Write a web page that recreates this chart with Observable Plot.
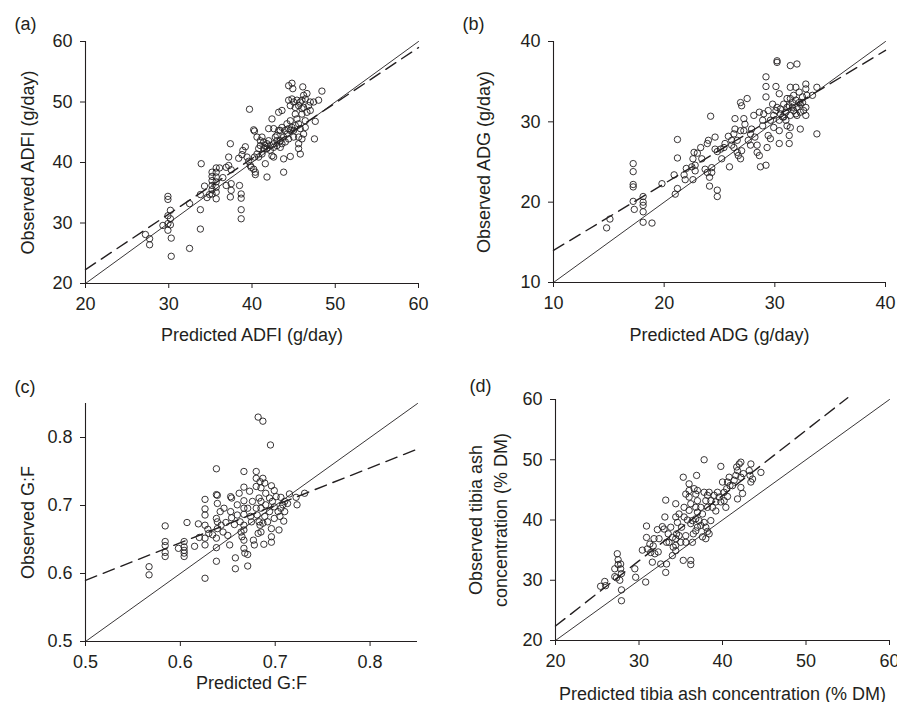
<!DOCTYPE html>
<html><head><meta charset="utf-8">
<script src="https://cdn.jsdelivr.net/npm/d3@7"></script>
<script src="https://cdn.jsdelivr.net/npm/@observablehq/plot@0.6"></script>
<style>
body{margin:0;background:#fff;}
#wrap{position:relative;width:897px;height:702px;overflow:hidden;background:#fff;}
#wrap > div{position:absolute;}
</style></head><body>
<div id="wrap"><div id="pa" style="left:0;top:0"></div><div id="pb" style="left:448px;top:0"></div><div id="pc" style="left:0;top:348px"></div><div id="pd" style="left:448px;top:348px"></div></div>
<script>
// (a) ADFI: [predicted, observed]
const adfi = [[27.2,28.1],[27.7,27.4],[27.7,26.4],[29.3,29.6],[29.9,34.4],[29.9,33.9],[30.2,32.1],[29.9,31.2],[30.2,30.7],[29.9,29.9],[30.2,29.7],[29.9,28.8],[30.3,27.5],[30.3,24.5],[32.5,25.8],[32.5,33.2],[33.8,29.0],[33.8,32.2],[33.8,34.7],[33.9,39.8],[34.3,36.1],[34.6,34.2],[34.9,34.7],[35.2,38.4],[35.2,37.7],[35.2,37.0],[35.2,36.2],[35.2,35.5],[35.2,34.8],[35.7,39.1],[35.7,38.4],[35.7,37.6],[35.7,36.8],[35.7,35.9],[35.7,35.1],[35.7,34.0],[36.1,39.1],[36.5,37.5],[36.9,39.2],[37.2,39.5],[37.4,43.1],[37.2,40.9],[36.9,36.2],[37.5,36.5],[37.4,34.3],[37.5,35.4],[37.5,38.8],[38.5,36.2],[38.7,34.8],[38.7,34.1],[38.7,32.2],[38.7,30.7],[38.4,40.7],[38.8,41.3],[38.9,42.0],[39.2,42.6],[39.4,40.9],[39.6,40.2],[39.8,39.5],[39.9,39.2],[39.7,48.8],[40.2,45.4],[40.3,45.2],
[40.2,38.9],[40.4,38.4],[40.4,38.0],[40.3,40.9],[40.6,41.4],[40.8,42.3],[41.0,42.8],[41.0,43.6],[40.6,44.2],[41.2,44.2],[41.4,43.4],[41.6,42.8],[41.8,42.3],[42.0,43.6],[41.6,39.8],[41.8,37.6],[42.4,41.1],[42.6,40.9],[42.2,42.0],[42.6,42.5],[43.0,43.6],[43.0,44.5],[43.4,45.3],[43.6,45.8],[43.6,43.1],[43.8,44.2],[44.2,44.7],[44.2,46.4],[44.6,45.3],[44.6,46.9],[45.0,45.3],[45.0,44.2],[45.2,46.1],[45.2,48.0],[45.4,47.2],[45.6,46.4],[45.6,44.2],[45.6,43.1],[45.6,42.3],[45.8,41.4],[45.8,45.6],[46.0,48.0],[46.0,48.9],[46.0,50.3],[46.2,49.1],[46.4,50.5],[46.4,46.9],[46.4,45.8],[46.6,48.3],[46.8,49.4],[47.0,50.0],[47.0,48.6],[47.4,50.0],[48.0,50.3],[48.4,51.8],[44.8,53.1],[44.4,52.7],[44.9,52.2],[46.1,52.5],[43.8,40.6],[43.8,38.4],[44.6,41.0],[43.6,48.6],[43.2,48.3],[42.4,47.2],[42.6,45.6],[42.0,45.6],[44.4,50.3],[44.8,50.5],[45.0,50.0],[45.4,50.3],[44.6,49.4],[45.2,49.1],[45.6,49.4],[45.8,50.0],[46.6,51.4],[46.2,51.1],[47.6,46.8],[47.5,43.9],[46.2,44.7],[46.0,43.9],[43.2,45.3],[42.8,44.2],[43.4,43.6],[44.0,45.3],[44.4,45.6],[44.8,45.8],[44.4,43.9],[44.0,43.4],[43.4,42.5],[43.0,42.8],[42.6,43.1],[42.2,42.8],[41.8,43.1],[41.4,42.3],[41.2,41.4],[40.8,40.9]];
const adfiFitX = [20, 60], adfiFitY = [22.3, 59.0];

// (b) ADG
const adg = [[14.8,16.8],[15.1,17.9],[17.2,24.8],[17.2,23.8],[17.2,22.2],[17.2,21.9],[17.2,20.1],[17.3,19.1],[18.1,20.7],[18.1,20.0],[18.1,19.6],[18.1,18.8],[18.1,17.5],[18.9,17.4],[19.8,22.3],[20.9,23.4],[21.0,21.0],[21.2,21.7],[21.2,27.8],[21.2,25.5],[21.8,23.4],[22.0,24.2],[21.9,22.8],[22.6,22.8],[22.5,24.4],[22.6,25.4],[22.7,26.2],[22.8,23.9],[22.8,24.6],[23.0,26.1],[23.3,26.8],[23.4,25.4],[23.7,24.1],[23.9,27.3],[24.0,27.7],[24.1,23.1],[24.1,22.0],[24.2,30.7],[23.9,23.7],
[24.3,24.3],[24.3,23.7],[24.6,28.1],[24.6,26.6],[24.8,26.3],[24.8,21.5],[24.8,20.7],[25.1,26.6],[25.2,25.4],[25.4,26.8],[25.5,27.3],[25.8,28.2],[25.9,24.4],[26.1,27.7],[26.1,27.1],[26.3,28.5],[26.3,26.8],[26.4,30.4],[26.4,29.1],[26.6,27.7],[26.6,26.2],[26.7,25.8],[26.9,25.4],[26.9,28.9],[26.9,32.4],[27.0,32.0],[27.0,26.4],[27.2,28.9],[27.2,30.4],[27.3,29.7],[27.5,32.9],[27.6,27.7],[27.8,28.5],[27.8,27.1],[27.9,29.1],[28.1,30.8],[28.2,28.1],[28.4,27.1],[28.4,26.2],[28.6,25.8],[28.6,31.2],[28.7,24.4],[28.9,30.2],[28.9,29.5],[29.0,31.0],[29.2,33.1],[29.2,34.4],[29.2,35.6],[29.2,24.6],[29.3,26.8],[29.4,28.3],[29.4,31.4],[29.6,30.2],[29.6,27.9],[29.8,32.2],[29.9,30.8],[29.9,29.3],[30.1,31.4],[30.1,34.4],[30.2,37.6],[30.2,37.4],[30.4,33.5],[30.4,30.2],[30.4,28.9],[30.4,27.3],[30.5,31.6],[30.7,30.6],[30.8,32.2],[31.0,31.2],[31.1,29.5],[31.1,32.9],[31.3,27.3],[31.3,28.3],[31.4,34.3],[31.4,37.0],[31.4,30.8],[31.6,31.8],[31.7,33.3],[31.9,32.7],[31.9,34.3],[32.0,37.2],[32.0,30.8],[32.2,33.7],[32.3,32.2],[32.3,29.1],[32.5,33.1],[32.6,31.4],[32.8,34.7],[32.8,34.1],[32.8,31.8],[32.8,30.8],[32.9,33.3],[33.4,33.3],[33.8,34.3],[33.8,28.5],[31.4,32.9],[31.6,32.4],[31.3,32.0],[31.7,31.4],[32.0,31.8],[32.2,32.4],[32.5,32.4],[32.3,31.2],[31.9,31.0],[31.4,29.3],[31.0,30.2],[30.5,31.0],[30.2,31.8],[30.8,30.6],[31.1,31.8]];
const adgFitX = [10, 40], adgFitY = [14.0, 38.9];

// (c) G:F
const gf = [[0.567,0.610],[0.567,0.598],[0.584,0.670],[0.584,0.647],[0.584,0.641],[0.584,0.631],[0.584,0.625],[0.598,0.637],[0.604,0.647],[0.604,0.639],[0.604,0.634],[0.604,0.630],[0.604,0.625],[0.607,0.675],[0.615,0.640],[0.619,0.673],[0.620,0.653],[0.626,0.593],[0.626,0.642],[0.626,0.652],[0.626,0.671],[0.626,0.686],[0.626,0.695],[0.626,0.709],[0.629,0.665],[0.630,0.659],[0.634,0.657],[0.638,0.754],[0.638,0.716],[0.639,0.715],[0.638,0.681],[0.638,0.652],[0.638,0.638],[0.638,0.618],[0.639,0.703],[0.639,0.676],[0.639,0.666],[0.642,0.691],[0.643,0.671],[0.645,0.661],[0.646,0.696],[0.648,0.675],[0.650,0.656],[0.652,0.642],[0.653,0.713],[0.654,0.711],[0.653,0.691],[0.654,0.682],[0.657,0.672],[0.658,0.623],[0.658,0.607],[0.660,0.701],[0.660,0.686],[0.662,0.718],[0.663,0.676],[0.664,0.661],[0.665,0.654],[0.667,0.750],[0.667,0.727],[0.667,0.707],[0.667,0.696],[0.667,0.687],[0.667,0.671],[0.667,0.664],[0.667,0.649],[0.667,0.637],[0.668,0.630],[0.671,0.696],[0.671,0.628],[0.671,0.611],
[0.673,0.721],[0.674,0.684],[0.675,0.676],[0.676,0.706],[0.677,0.649],[0.678,0.642],[0.680,0.750],[0.680,0.740],[0.680,0.728],[0.680,0.696],[0.681,0.686],[0.682,0.830],[0.682,0.659],[0.683,0.711],[0.683,0.676],[0.684,0.671],[0.684,0.735],
[0.687,0.824],[0.695,0.789],[0.687,0.740],[0.689,0.733],[0.685,0.726],[0.696,0.729],[0.699,0.722],[0.701,0.713],[0.706,0.712],[0.710,0.706],[0.715,0.717],[0.722,0.712],[0.731,0.718],[0.723,0.701],[0.713,0.703],[0.708,0.701],[0.710,0.691],[0.709,0.677],[0.704,0.664],[0.696,0.666],[0.696,0.654],[0.696,0.646],[0.688,0.643],[0.685,0.661],[0.690,0.701],[0.694,0.691],[0.699,0.698],[0.703,0.691],[0.705,0.684],[0.699,0.681],[0.692,0.676],[0.689,0.684],[0.685,0.706],[0.694,0.711],[0.690,0.718],[0.706,0.696],[0.697,0.706],[0.687,0.674],[0.685,0.696]];
const gfFitX = [0.5, 0.85], gfFitY = [0.590, 0.783];

// (d) tibia ash concentration
const ash = [[25.4,29.0],[25.9,29.8],[26.0,29.1],[27.1,31.9],[27.4,34.4],[27.5,33.4],[27.5,32.6],[27.8,32.7],[27.8,31.9],[27.9,31.1],[27.7,30.0],[27.9,28.4],[27.9,26.6],[27.1,30.6],[27.3,30.4],[29.5,31.9],[29.6,30.5],[30.8,29.7],[30.4,35.0],[30.9,37.1],[30.9,39.0],[31.0,35.2],[31.3,36.0],[31.4,34.6],[31.6,33.0],[31.8,36.9],[31.9,34.4],[32.2,38.4],[32.3,34.7],[32.6,32.7],[32.8,38.9],[33.1,40.5],[33.2,43.3],[33.2,31.3],[33.3,32.7],[33.3,36.3],[33.5,37.7],[33.8,38.8],[34.0,34.1],[34.1,35.5],[34.4,42.7],[34.4,40.5],[34.4,36.9],[34.4,34.9],[34.4,35.8],[34.5,37.7],[34.6,39.6],[34.8,41.0],[35.1,38.8],[35.3,47.1],[35.3,33.3],[35.4,42.1],[35.4,40.5],[35.6,44.3],[35.6,37.4],[35.6,36.3],[35.8,40.0],[36.0,46.0],[36.0,44.9],[36.0,43.8],[36.0,41.6],[36.2,42.7],[36.2,39.4],[36.4,36.3],[36.5,37.7],[36.8,40.2],[36.8,42.1],[36.9,47.4],[31.7,35.7],[32.4,36.9],[33.0,38.5],[34.0,37.1],[33.6,36.3],[34.8,37.4],[35.0,36.3],[36.6,45.2],[36.8,44.3],[36.4,39.9],[36.8,38.2],[36.2,33.3],[36.2,32.6],
[37.0,43.2],[37.0,41.3],[37.2,39.9],[37.4,42.1],[37.6,41.0],[37.8,44.6],[38.0,43.2],[38.2,44.1],[38.2,42.1],[38.4,44.6],[38.6,43.2],[38.6,39.9],[38.8,42.1],[39.0,44.1],[39.2,43.0],[39.4,44.6],[39.6,43.8],[39.8,43.0],[39.8,48.9],[40.0,46.3],[40.2,44.6],[40.2,43.2],[40.4,42.1],[40.5,45.2],[40.6,43.9],[40.6,46.3],[40.8,47.1],[40.9,45.7],[41.2,45.7],[41.4,46.6],[41.6,47.4],[41.7,48.8],[41.8,43.5],[41.8,48.2],[42.0,49.3],[42.2,49.6],[42.2,47.1],[42.2,45.4],[42.4,44.4],[42.5,47.7],[43.2,48.2],[43.3,47.4],[43.4,49.3],[43.4,46.3],[43.6,46.8],[44.6,47.9],[39.2,41.5],[37.4,39.1],[37.8,39.6],[38.0,38.8],[38.2,38.1],[38.4,37.7],[38.0,36.9],[37.6,37.2],[37.0,38.8],[37.8,50.0],[37.0,44.9]];
const ashFitX = [20, 55], ashFitY = [22.4, 60.3];

const ink = "#231f20";
const FONT = "'Liberation Sans', Arial, Helvetica, sans-serif";

function panel(o) {
  const d0 = o.dom[0], d1 = o.dom[1];
  return Plot.plot({
    width: o.width, height: o.height,
    marginLeft: o.ml, marginRight: o.mr, marginTop: o.mt, marginBottom: o.mb,
    style: {fontFamily: FONT, fontSize: "18px", color: ink, background: "white", overflow: "hidden"},
    x: {domain: o.dom},
    y: {domain: o.dom},
    marks: [
      Plot.axisX({ticks: o.ticks, tickFormat: o.fmt, tickSize: 5, tickPadding: 9, label: null, fontSize: 18, stroke: ink}),
      Plot.axisY({ticks: o.ticks, tickFormat: o.fmt, tickSize: 5, tickPadding: 8, label: null, fontSize: 18, stroke: ink}),
      Plot.ruleY([d0], {stroke: ink, strokeWidth: 1.1}),
      Plot.ruleX([d0], {stroke: ink, strokeWidth: 1.1}),
      Plot.line([[d0, d0], [d1, d1]], {x: d => d[0], y: d => d[1], stroke: ink, strokeWidth: 0.9}),
      Plot.line(o.fitX.map((x, i) => [x, o.fitY[i]]), {x: d => d[0], y: d => d[1], stroke: ink, strokeWidth: 1.4, strokeDasharray: "12,7"}),
      Plot.dot(o.data, {x: d => d[0], y: d => d[1], r: 3.2, stroke: ink, strokeWidth: 0.9, fill: "none"}),
      Plot.text([o.xLabel], {text: d => d, frameAnchor: "bottom", dy: o.xDy, textAnchor: "middle", lineAnchor: "bottom", fontSize: 18, fill: ink}),
      Plot.text([o.yLabel], {text: d => d, frameAnchor: "left", dx: o.yDx, rotate: -90, textAnchor: "middle", lineAnchor: "middle", lineHeight: 1.4, fontSize: 18, fill: ink}),
      Plot.text([o.letter], {text: d => d, frameAnchor: "top-left", dx: o.lDx, dy: o.lDy, textAnchor: "start", lineAnchor: "bottom", fontSize: 18, fill: ink})
    ]
  });
}

const intFmt = d3.format("d"), decFmt = d3.format(".1f");

document.getElementById("pa").append(panel({
  data: adfi, dom: [20, 60], ticks: [20, 30, 40, 50, 60], fmt: intFmt, fitX: adfiFitX, fitY: adfiFitY,
  xLabel: "Predicted ADFI (g/day)", yLabel: "Observed ADFI (g/day)", letter: "(a)",
  width: 448, height: 348, ml: 85, mr: 30, mt: 41, mb: 65, xDy: 57, yDx: -60, lDx: -71, lDy: -12
}));
document.getElementById("pb").append(panel({
  data: adg, dom: [10, 40], ticks: [10, 20, 30, 40], fmt: intFmt, fitX: adgFitX, fitY: adgFitY,
  xLabel: "Predicted ADG (g/day)", yLabel: "Observed ADG (g/day)", letter: "(b)",
  width: 449, height: 348, ml: 105, mr: 12, mt: 41, mb: 66, xDy: 58, yDx: -72, lDx: -91, lDy: -12
}));
document.getElementById("pc").append(panel({
  data: gf, dom: [0.5, 0.85], ticks: [0.5, 0.6, 0.7, 0.8], fmt: decFmt, fitX: gfFitX, fitY: gfFitY,
  xLabel: "Predicted G:F", yLabel: "Observed G:F", letter: "(c)",
  width: 448, height: 354, ml: 85, mr: 31, mt: 55, mb: 61, xDy: 47, yDx: -60, lDx: -71, lDy: -11
}));
document.getElementById("pd").append(panel({
  data: ash, dom: [20, 60], ticks: [20, 30, 40, 50, 60], fmt: intFmt, fitX: ashFitX, fitY: ashFitY,
  xLabel: "Predicted tibia ash concentration (% DM)", yLabel: "Observed tibia ash\nconcentration (% DM)", letter: "(d)",
  width: 449, height: 354, ml: 107, mr: 8, mt: 51, mb: 62, xDy: 59, yDx: -69, lDx: -86, lDy: -8
}));
</script>
</body></html>
